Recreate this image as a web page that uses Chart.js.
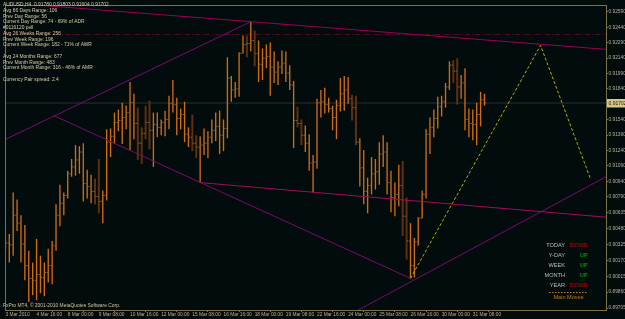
<!DOCTYPE html>
<html>
<head>
<meta charset="utf-8">
<script src="https://cdn.jsdelivr.net/npm/chart.js@4.4.1/dist/chart.umd.min.js"></script>
<style>
  html, body { margin: 0; padding: 0; background: #030c0c; }
  canvas { display: block; }
</style>
</head>
<body>
<canvas id="chart" width="625" height="319"></canvas>
<script>
// AUDUSD H4, bars from 3 Mar 08:00 to 31 Mar 20:00
const highs = [0.90503,0.90426,0.90830,0.90763,0.90609,0.90513,0.90263,0.90148,0.90378,0.90215,
  0.90148,0.90282,0.90359,0.90715,0.90907,0.90830,0.91042,0.91157,0.91292,0.91282,
  0.91311,0.91052,0.91003,0.90965,0.91157,0.90850,0.91446,0.91455,0.91609,0.91638,
  0.91705,0.91677,0.91907,0.91792,0.91657,0.91465,0.91677,0.91725,0.91609,0.91609,
  0.91542,0.91628,0.91773,0.91927,0.91753,0.91648,0.91715,0.91465,0.91590,0.91388,
  0.91378,0.91455,0.91427,0.91542,0.91609,0.91628,0.91542,0.92148,0.91965,0.91907,
  0.92196,0.92359,0.92359,0.92494,0.92407,0.92311,0.92234,0.92273,0.92292,0.92205,
  0.92109,0.92215,0.92205,0.92071,0.91917,0.91667,0.91542,0.91484,0.91398,0.91196,
  0.91744,0.91830,0.91850,0.91753,0.91677,0.91734,0.91946,0.91965,0.91955,0.91782,
  0.91773,0.91359,0.91244,0.90975,0.91176,0.91157,0.91321,0.91388,0.91321,0.91042,
  0.90927,0.91100,0.91138,0.90782,0.90532,0.90388,0.90590,0.90850,0.91446,0.91561,
  0.91638,0.91763,0.91773,0.91898,0.92109,0.92119,0.92138,0.91975,0.92042,0.91648,
  0.91638,0.91705,0.91811,0.91792];
const lows = [0.90263,0.90148,0.90215,0.90455,0.90148,0.89975,0.89763,0.89830,0.89782,0.89850,
  0.89821,0.89955,0.89936,0.90263,0.90503,0.90609,0.90773,0.90984,0.90994,0.91013,
  0.90744,0.90773,0.90725,0.90715,0.90628,0.90532,0.90753,0.91176,0.91302,0.91427,
  0.91302,0.91446,0.91244,0.91350,0.91148,0.91109,0.91350,0.91253,0.91080,0.91369,
  0.91388,0.91378,0.91446,0.91609,0.91388,0.91446,0.91321,0.91273,0.91234,0.91167,
  0.90927,0.91196,0.91167,0.91311,0.91330,0.91205,0.91234,0.91359,0.91715,0.91753,
  0.91763,0.92186,0.92148,0.92205,0.92061,0.91907,0.91927,0.92042,0.91773,0.91898,
  0.91878,0.91984,0.91907,0.91830,0.91263,0.91465,0.91292,0.91225,0.91042,0.90830,
  0.91061,0.91561,0.91600,0.91609,0.91436,0.91350,0.91619,0.91628,0.91696,0.91532,
  0.91292,0.90888,0.90715,0.90628,0.90811,0.90859,0.90907,0.91080,0.90811,0.90638,
  0.90600,0.90696,0.90407,0.90176,0.89994,0.90003,0.90311,0.90580,0.90773,0.91205,
  0.91369,0.91455,0.91571,0.91657,0.91830,0.91898,0.91686,0.91744,0.91436,0.91369,
  0.91340,0.91292,0.91475,0.91677];
const opens = [0.90378,0.90340,0.90321,0.90609,0.90532,0.90330,0.90119,0.89994,0.89975,0.90032,
  0.90003,0.90051,0.90119,0.90311,0.90609,0.90725,0.90801,0.91013,0.91080,0.91148,
  0.91225,0.90917,0.90888,0.90840,0.90792,0.90744,0.90801,0.91321,0.91378,0.91513,
  0.91532,0.91561,0.91609,0.91705,0.91503,0.91311,0.91407,0.91513,0.91436,0.91494,
  0.91465,0.91513,0.91542,0.91696,0.91686,0.91552,0.91590,0.91398,0.91369,0.91311,
  0.91273,0.91292,0.91311,0.91369,0.91436,0.91475,0.91388,0.91455,0.91946,0.91830,
  0.91840,0.92186,0.92273,0.92282,0.92311,0.92186,0.92080,0.92138,0.92157,0.92052,
  0.92003,0.92052,0.92090,0.91994,0.91878,0.91532,0.91503,0.91388,0.91311,0.91119,
  0.91128,0.91705,0.91715,0.91686,0.91648,0.91561,0.91677,0.91792,0.91830,0.91744,
  0.91657,0.91321,0.91071,0.90840,0.90898,0.91013,0.91032,0.91205,0.91225,0.90927,
  0.90782,0.90811,0.90898,0.90600,0.90359,0.90119,0.90350,0.90580,0.90811,0.91398,
  0.91465,0.91552,0.91667,0.91715,0.91859,0.92071,0.92013,0.91859,0.91898,0.91542,
  0.91503,0.91494,0.91590,0.91734];
const closes = [0.90340,0.90321,0.90609,0.90532,0.90330,0.90119,0.89994,0.89975,0.90032,0.90003,
  0.90051,0.90119,0.90311,0.90609,0.90725,0.90801,0.91013,0.91080,0.91148,0.91225,
  0.90917,0.90888,0.90840,0.90792,0.90744,0.90801,0.91321,0.91378,0.91513,0.91532,
  0.91561,0.91609,0.91705,0.91503,0.91311,0.91407,0.91513,0.91436,0.91494,0.91465,
  0.91513,0.91542,0.91696,0.91686,0.91552,0.91590,0.91398,0.91369,0.91311,0.91273,
  0.91292,0.91311,0.91369,0.91436,0.91475,0.91388,0.91455,0.91946,0.91830,0.91840,
  0.92186,0.92273,0.92282,0.92311,0.92186,0.92080,0.92138,0.92157,0.92052,0.92003,
  0.92052,0.92090,0.91994,0.91878,0.91532,0.91503,0.91388,0.91311,0.91119,0.91128,
  0.91705,0.91715,0.91686,0.91648,0.91561,0.91677,0.91792,0.91830,0.91744,0.91657,
  0.91321,0.91071,0.90840,0.90898,0.91013,0.91032,0.91205,0.91225,0.90927,0.90782,
  0.90811,0.90898,0.90600,0.90359,0.90119,0.90350,0.90580,0.90811,0.91398,0.91465,
  0.91552,0.91667,0.91715,0.91859,0.92071,0.92013,0.91859,0.91898,0.91542,0.91503,
  0.91494,0.91590,0.91734,0.91702];
// bars drawn in the darker (session) colour
const shadedBars = [23,24,34,35,36,37,48,49,62,64,75,76,89,90,102,103,115,116];

// time axis
const labelBars = [0,8,16,24,32,40,48,56,64,72,80,88,96,104,112,120];
const timeLabels = ['3 Mar 2010','4 Mar 16:00','8 Mar 00:00','9 Mar 08:00','10 Mar 16:00','12 Mar 00:00',
  '15 Mar 08:00','16 Mar 16:00','18 Mar 00:00','19 Mar 08:00','22 Mar 16:00','24 Mar 00:00',
  '25 Mar 08:00','26 Mar 16:00','30 Mar 00:00','31 Mar 08:00'];
// price axis
const priceLabels = ['0.92590','0.92440','0.92290','0.92140','0.91990','0.91840','0.91540','0.91390',
  '0.91240','0.91090','0.90940','0.90790','0.90635','0.90480','0.90325','0.90170','0.90015','0.89860','0.89705'];
const bidPrice = 0.91702;
const levelLine = 0.92369;

// hand drawn objects (bar index, price)
const topLine = [{x: -0.1, y: 0.92681}, {x: 154.2, y: 0.92225}];
const lowChannel = [{x: 50, y: 0.90927}, {x: 154.2, y: 0.90590}];
const riseLine = [{x: -0.1, y: 0.91346}, {x: 63, y: 0.92494}];
const fallLine = [{x: 12.4, y: 0.91580}, {x: 104, y: 0.89994}];
const supportLine = [{x: 85.9, y: 0.89590}, {x: 154.2, y: 0.90984}];
const projection = [{x: 104, y: 0.89994}, {x: 137.4, y: 0.92263}, {x: 150.2, y: 0.90965}];

const infoLines = [
  'AUDUSD,H4  0.91780 0.91803 0.91604 0.91702',
  'Avg 66 Days Range: 106',
  'Prev Day Range: 56',
  'Current Day Range: 74 - 69% of ADR',
  '#0116120 pell',
  'Avg 26 Weeks Range: 256',
  'Prev Week Range: 196',
  'Current Week Range: 182 - 71% of AWR',
  '',
  'Avg 24 Months Range: 677',
  'Prev Month Range: 483',
  'Current Month Range: 316 - 46% of AMR',
  '',
  'Currency Pair spread: 2.4'
];
const moveNames = ['TODAY', 'Y-DAY', 'WEEK', 'MONTH', 'YEAR'];
const moveValues = ['DOWN', 'UP', 'UP', 'UP', 'DOWN'];

const olive = '#7d714b';
const font = '"Liberation Sans", Arial, sans-serif';

const normalBars = [], darkBars = [], openTicks = [], closeTicks = [];
highs.forEach((h, i) => {
  const item = {x: i, y: [lows[i], h]};
  if (shadedBars.includes(i)) darkBars.push(item); else normalBars.push(item);
  openTicks.push({x: i - 0.25, y: opens[i]});
  closeTicks.push({x: i + 0.25, y: closes[i]});
});

const hLine = (v) => [{x: -0.1, y: v}, {x: 154.2, y: v}];
const lineSet = (data, color, extra) => Object.assign({
  type: 'line', data: data, borderColor: color, borderWidth: 1,
  pointRadius: 0, fill: false, tension: 0, order: 0
}, extra || {});

const background = {
  id: 'background',
  beforeDraw(chart) {
    const c = chart.ctx;
    c.save();
    c.fillStyle = '#030c0c';
    c.fillRect(0, 0, chart.width, chart.height);
    c.restore();
  }
};

const overlay = {
  id: 'overlay',
  afterDraw(chart) {
    const c = chart.ctx;
    const a = chart.chartArea;
    c.save();
    // frame top / left
    c.strokeStyle = olive;
    c.lineWidth = 1;
    c.beginPath();
    c.moveTo(a.left + 0.5, a.bottom);
    c.lineTo(a.left + 0.5, a.top + 0.5);
    c.lineTo(a.right, a.top + 0.5);
    c.stroke();

    // info block
    c.font = '4.9px ' + font;
    c.fillStyle = '#d6cea4';
    c.textBaseline = 'middle';
    infoLines.forEach((t, i) => c.fillText(t, 3, 4.9 + i * 5.75));

    c.fillStyle = '#cfc7a6';
    c.fillText('FxPro MT4, \u00a9 2001-2010 MetaQuotes Software Corp.', 3, 306);

    // main moves box
    c.font = '5.6px ' + font;
    moveNames.forEach((n, i) => {
      const y = 245 + i * 10;
      c.textAlign = 'right';
      c.fillStyle = '#bcbcbc';
      c.fillText(n, 565, y);
      c.fillStyle = moveValues[i] === 'UP' ? '#00b000' : '#cc0000';
      c.fillText(moveValues[i], 587.5, y);
    });
    c.strokeStyle = '#c87a1e';
    c.setLineDash([1.5, 1.5]);
    c.beginPath();
    c.moveTo(549, 292.5);
    c.lineTo(588, 292.5);
    c.stroke();
    c.setLineDash([]);
    c.textAlign = 'center';
    c.fillStyle = '#c87a1e';
    c.fillText('Main Moves', 568.5, 297.5);

    // bid price label on the price axis
    const y = chart.scales.y.getPixelForValue(bidPrice);
    c.fillStyle = '#d6c68c';
    c.fillRect(a.right + 1, Math.round(y) - 4, 19, 8.5);
    c.fillStyle = '#1a1a10';
    c.font = '5px ' + font;
    c.textAlign = 'left';
    c.fillText(bidPrice.toFixed(5), a.right + 2.5, Math.round(y) + 0.3);
    c.restore();
  }
};

new Chart(document.getElementById('chart'), {
  type: 'bar',
  data: {
    datasets: [
      lineSet(topLine, '#9c0052'),
      lineSet(lowChannel, '#a00c58'),
      lineSet(riseLine, '#7a0a6e'),
      lineSet(fallLine, '#7a0a6e'),
      lineSet(supportLine, '#7a0a6e'),
      lineSet(projection, '#b0ac00', {borderDash: [3, 2]}),
      {type: 'line', data: openTicks, showLine: false, pointStyle: 'line', pointRadius: 0.7,
        pointBorderWidth: 1, pointBorderColor: '#6e6656', order: 1},
      {type: 'line', data: closeTicks, showLine: false, pointStyle: 'line', pointRadius: 0.7,
        pointBorderWidth: 1, pointBorderColor: '#6e6656', order: 1},
      {type: 'bar', data: normalBars, backgroundColor: '#d06c12', barThickness: 1.35,
        inflateAmount: 0, grouped: false, order: 2},
      {type: 'bar', data: darkBars, backgroundColor: '#5e3010', barThickness: 2,
        inflateAmount: 0, grouped: false, order: 2},
      lineSet(hLine(levelLine), '#5c0a20', {borderDash: [5, 2, 1, 2], order: 3}),
      lineSet(hLine(bidPrice), '#283232', {order: 3})
    ]
  },
  options: {
    responsive: false,
    animation: false,
    layout: {padding: {top: 1, left: 1, right: 0, bottom: 0}},
    plugins: {legend: {display: false}, tooltip: {enabled: false}},
    scales: {
      x: {
        type: 'linear', min: -0.1, max: 154.2, offset: false,
        afterBuildTicks: (s) => { s.ticks = labelBars.map(v => ({value: v})); },
        afterFit: (s) => { s.height = 9; },
        ticks: {
          callback: (v) => timeLabels[labelBars.indexOf(v)],
          align: 'start', autoSkip: false, maxRotation: 0, padding: 0,
          color: '#b4b0a0', font: {size: 4.8, family: font}
        },
        grid: {drawOnChartArea: false, drawTicks: true, tickLength: 2, color: olive},
        border: {color: olive}
      },
      y: {
        type: 'linear', position: 'right', min: 0.89686, max: 0.92657,
        afterBuildTicks: (s) => { s.ticks = priceLabels.map(t => ({value: parseFloat(t)})); },
        afterFit: (s) => { s.width = 19; },
        ticks: {
          callback: (v) => priceLabels.find(t => parseFloat(t) === v),
          autoSkip: false, padding: 0.5,
          color: '#b4b0a0', font: {size: 4.8, family: font}
        },
        grid: {drawOnChartArea: false, drawTicks: true, tickLength: 2, color: olive},
        border: {color: olive}
      }
    }
  },
  plugins: [background, overlay]
});
</script>
</body>
</html>
